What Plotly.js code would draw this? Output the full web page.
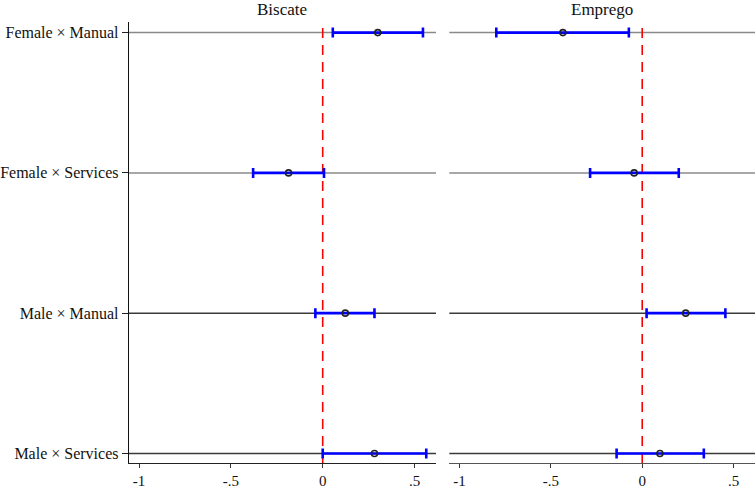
<!DOCTYPE html>
<html>
<head>
<meta charset="utf-8">
<script src="https://cdn.plot.ly/plotly-3.0.1.min.js"></script>
<style>html,body{margin:0;padding:0;background:#fff;}#chart{width:756px;height:488px;}</style>
</head>
<body>
<div id="chart"></div>
<script>
// Interaction terms (top to bottom)
const terms = ["Female × Manual", "Female × Services", "Male × Manual", "Male × Services"];

// Biscate: point estimates and 95% CI bounds
const biscateEst   = [0.300, -0.186, 0.123, 0.282];
const biscateLower = [0.055, -0.379, -0.040, 0.000];
const biscateUpper = [0.546, 0.007, 0.282, 0.564];

// Emprego: point estimates and 95% CI bounds
const empregoEst   = [-0.434, -0.044, 0.238, 0.097];
const empregoLower = [-0.798, -0.285, 0.024, -0.140];
const empregoUpper = [-0.073, 0.200, 0.455, 0.337];

const panelTitles = ["Biscate", "Emprego"];
const xTickVals = [-1, -0.5, 0, 0.5];
const xTickText = ["-1", "-.5", "0", ".5"];

const FONT = "'Liberation Serif', 'Times New Roman', serif";

function coefTrace(est, lo, hi, xa) {
  return {
    type: "scatter", mode: "markers",
    x: est, y: terms, xaxis: xa, yaxis: "y",
    marker: {symbol: "circle-open", size: 6, color: "#222", line: {width: 1.6, color: "#222"}},
    error_x: {
      type: "data", symmetric: false,
      array: hi.map((h, i) => h - est[i]),
      arrayminus: lo.map((l, i) => est[i] - l),
      color: "#0000ff", thickness: 2.6, width: 5
    },
    hoverinfo: "x+y", showlegend: false
  };
}

// Row reference lines across each panel and the dashed zero line
const shapes = [];
["x", "x2"].forEach(xa => {
  terms.forEach((t, i) => {
    shapes.push({
      type: "line", layer: "below", xref: xa + " domain", yref: "y",
      x0: 0, x1: 1, y0: t, y1: t,
      line: {color: i < 2 ? "#8a8a8a" : "#3a3a3a", width: 1.5}
    });
  });
  shapes.push({
    type: "line", layer: "below", xref: xa, yref: "y domain",
    x0: 0, x1: 0, y0: 0, y1: 1,
    line: {color: "#ff0000", width: 1.6, dash: "10px,7px"}
  });
});

const xRange = [-1.055, 0.617];
const xaxisBase = {
  range: xRange, tickvals: xTickVals, ticktext: xTickText,
  ticks: "outside", ticklen: 4, tickwidth: 1, tickcolor: "#333",
  showline: true, linewidth: 1.3, showgrid: false, zeroline: false,
  tickfont: {family: FONT, size: 15, color: "#111"}, fixedrange: true
};

const layout = {
  width: 756, height: 488,
  margin: {l: 129, r: 1, t: 22, b: 25},
  paper_bgcolor: "#fff", plot_bgcolor: "#fff",
  font: {family: FONT, color: "#111"},
  showlegend: false,
  xaxis: Object.assign({}, xaxisBase, {domain: [0, 0.4904], anchor: "y", linecolor: "#222"}),
  xaxis2: Object.assign({}, xaxisBase, {domain: [0.5117, 1], anchor: "y", linecolor: "#555"}),
  yaxis: {
    type: "category", categoryorder: "array", categoryarray: terms,
    range: [3.068, -0.0755],
    ticks: "outside", ticklen: 6, tickcolor: "#222",
    showline: true, linecolor: "#111", linewidth: 1.3,
    showgrid: false, zeroline: false,
    tickfont: {family: FONT, size: 16, color: "#111"}, fixedrange: true
  },
  shapes: shapes,
  annotations: panelTitles.map((txt, i) => ({
    text: txt, xref: (i === 0 ? "x" : "x2") + " domain", yref: "paper",
    x: 0.5, y: 1, yanchor: "bottom", yshift: 1, showarrow: false,
    font: {family: FONT, size: 17, color: "#111"}
  }))
};

Plotly.newPlot("chart", [
  coefTrace(biscateEst, biscateLower, biscateUpper, "x"),
  coefTrace(empregoEst, empregoLower, empregoUpper, "x2")
], layout, {displayModeBar: false, staticPlot: true});
</script>
</body>
</html>
